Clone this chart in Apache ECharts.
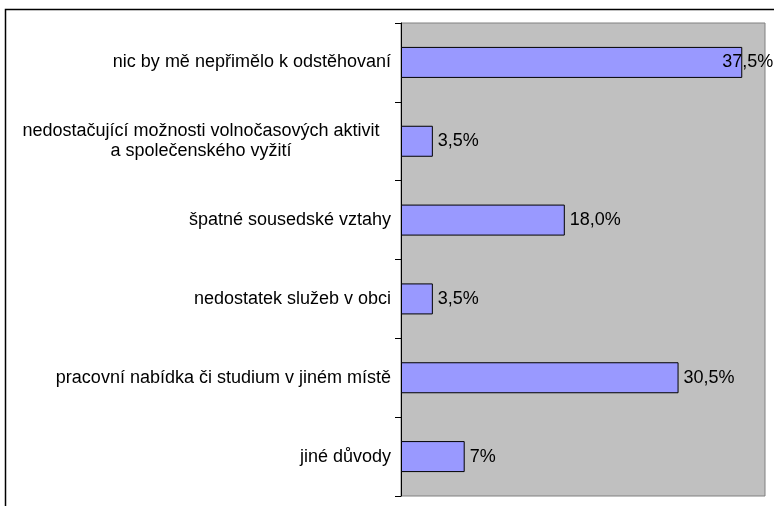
<!DOCTYPE html>
<html>
<head>
<meta charset="utf-8">
<script src="https://cdn.jsdelivr.net/npm/echarts@6/dist/echarts.min.js"></script>
<style>
    html, body { margin: 0; padding: 0; background: #fff; }
    #main { width: 774px; height: 506px; }
</style>
</head>
<body>
<div id="main"></div>
<script>
// důvody k odstěhování (shora dolů)
var categories = [
    'nic by mě nepřimělo k odstěhovaní',
    'nedostačující možnosti volnočasových aktivit\na společenského vyžití',
    'špatné sousedské vztahy',
    'nedostatek služeb v obci',
    'pracovní nabídka či studium v jiném místě',
    'jiné důvody'
];
var values = [37.5, 3.5, 18.0, 3.5, 30.5, 7];
var valueLabels = ['37,5%', '3,5%', '18,0%', '3,5%', '30,5%', '7%'];

drawMain();

function drawMain() {
    var myChart = echarts.init(document.getElementById('main'));
    var font = '"Liberation Sans", Arial, sans-serif';

    var data = values.map(function (v, i) {
        var item = { value: v };
        // první popisek zasahuje do sloupce
        if (i == 0) {
            item.label = { offset: [-25, 0] };
        }
        return item;
    });

    var option = {
        backgroundColor: '#fff',
        animation: false,
        graphic: [{
            type: 'rect',
            shape: { x: 5.5, y: 9.5, width: 800, height: 520 },
            style: { fill: 'none', stroke: '#000', lineWidth: 1.5 },
            z: -1
        }],
        grid: {
            left: 401,
            right: 9,
            top: 23,
            bottom: 10,
            show: true,
            backgroundColor: '#C0C0C0',
            borderColor: '#808080',
            borderWidth: 1
        },
        xAxis: {
            type: 'value',
            min: 0,
            max: 40,
            show: false
        },
        yAxis: {
            type: 'category',
            inverse: true,
            data: categories,
            axisLine: { lineStyle: { color: '#000', width: 1 } },
            axisTick: { show: true, length: 6, alignWithLabel: false, lineStyle: { color: '#000' } },
            axisLabel: {
                margin: 10,
                color: '#000',
                fontFamily: font,
                fontSize: 18,
                formatter: function (val) {
                    if (val.indexOf('\n') >= 0) {
                        var parts = val.split('\n');
                        return '{w|' + parts[0] + '}\n{w|' + parts[1] + '}';
                    }
                    return val;
                },
                rich: {
                    w: {
                        width: 360,
                        padding: [0, 10, 0, 0],
                        align: 'center',
                        fontFamily: font,
                        fontSize: 18,
                        lineHeight: 20,
                        color: '#000'
                    }
                }
            },
            splitLine: { show: false }
        },
        series: [{
            type: 'bar',
            data: data,
            barWidth: 31,
            itemStyle: {
                color: '#9999FF',
                borderColor: '#000',
                borderWidth: 1
            },
            label: {
                show: true,
                position: 'right',
                distance: 5,
                color: '#000',
                fontFamily: font,
                fontSize: 18,
                formatter: function (p) {
                    return valueLabels[p.dataIndex];
                }
            }
        }]
    };

    myChart.setOption(option);
}
</script>
</body>
</html>
